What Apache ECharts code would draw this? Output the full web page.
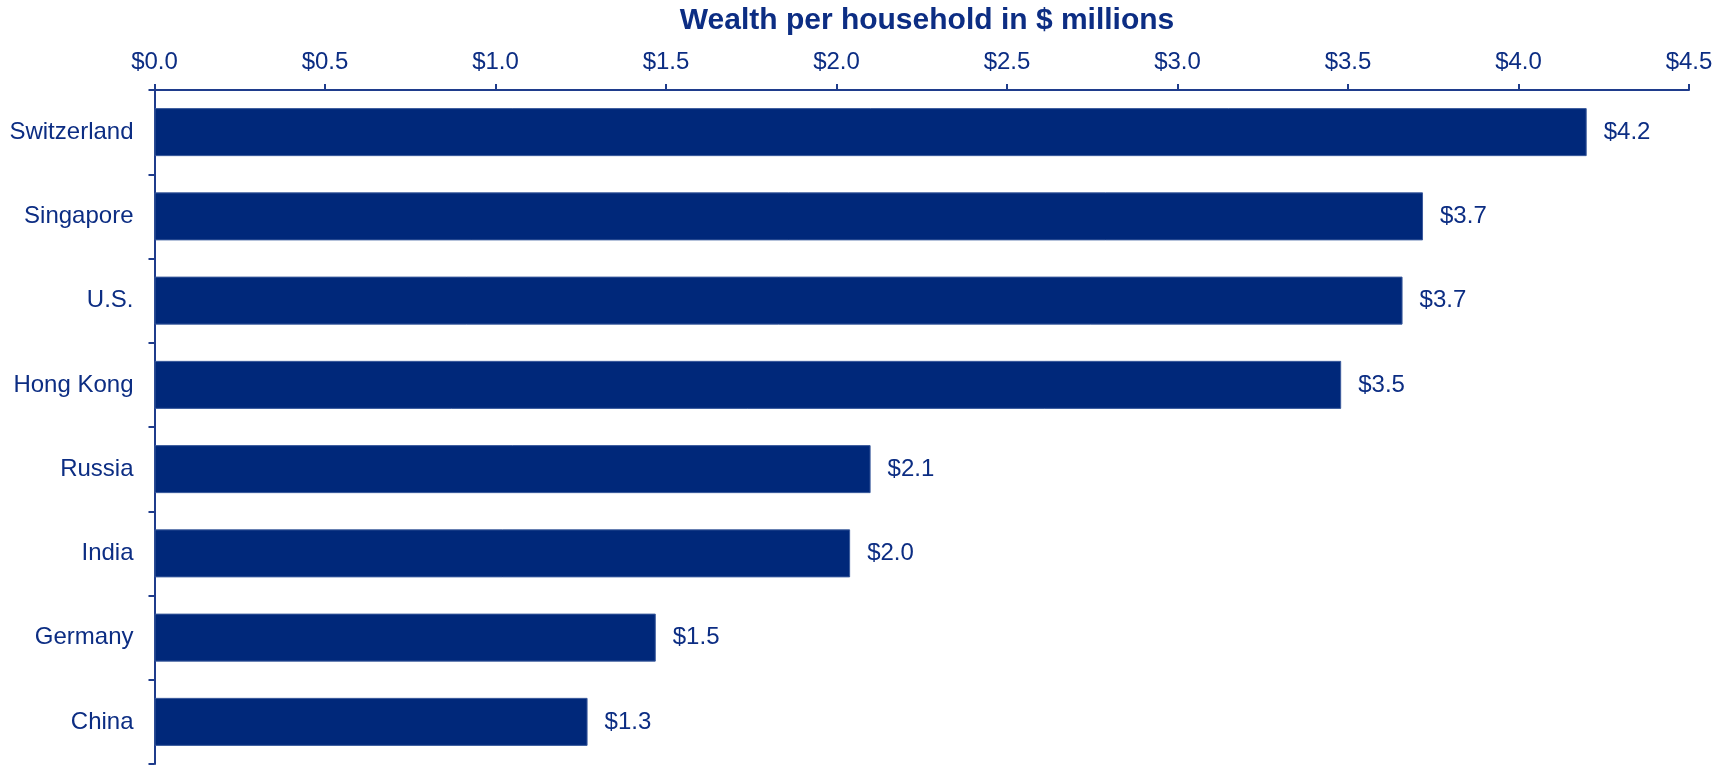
<!DOCTYPE html>
<html>
<head>
<meta charset="utf-8">
<script src="https://cdn.jsdelivr.net/npm/echarts@6/dist/echarts.min.js"></script>
<style>
html,body{margin:0;padding:0;background:#fff;}
#chart{width:1729px;height:767px;}
</style>
</head>
<body>
<div id="chart"></div>
<script>
const categories = ["Switzerland","Singapore","U.S.","Hong Kong","Russia","India","Germany","China"];
const wealthValues = [4.20, 3.72, 3.66, 3.48, 2.10, 2.04, 1.47, 1.27];
const chartTitle = "Wealth per household in $ millions";

const navy = '#00287a';
const textColor = '#0c2d83';
const font = '"Liberation Sans", Arial, sans-serif';

const chart = echarts.init(document.getElementById('chart'), null, {renderer:'canvas'});
chart.setOption({
  backgroundColor:'#fff',
  animation:false,
  title:{
    text: chartTitle,
    left: 922, textAlign:'center', top: 1,
    textStyle:{fontFamily:font, fontSize:30, fontWeight:'bold', color:textColor}
  },
  grid:{left:154.5, right:40, top:90, bottom:3, containLabel:false},
  xAxis:{
    type:'value', position:'top', min:0, max:4.5, interval:0.5,
    axisLine:{show:true, lineStyle:{color:'#1f3c8c', width:2}},
    axisTick:{show:true, length:6, lineStyle:{color:'#1f3c8c', width:2}},
    splitLine:{show:false},
    axisLabel:{
      margin:16, fontFamily:font, fontSize:24, color:textColor,
      formatter: v => '$' + v.toFixed(1)
    }
  },
  yAxis:{
    type:'category', data:categories, inverse:true,
    axisLine:{show:true, lineStyle:{color:'#1f3c8c', width:2}},
    axisTick:{show:true, length:6, lineStyle:{color:'#1f3c8c', width:2}},
    axisLabel:{margin:21, fontFamily:font, fontSize:24, color:textColor}
  },
  series:[{
    type:'bar', data:wealthValues, barWidth:'57%',
    itemStyle:{color:navy, borderColor:'#3a5a9c', borderWidth:1},
    label:{
      show:true, position:'right', distance:17,
      fontFamily:font, fontSize:24, color:textColor,
      formatter: p => '$' + p.value.toFixed(1)
    }
  }]
});
</script>
</body>
</html>
